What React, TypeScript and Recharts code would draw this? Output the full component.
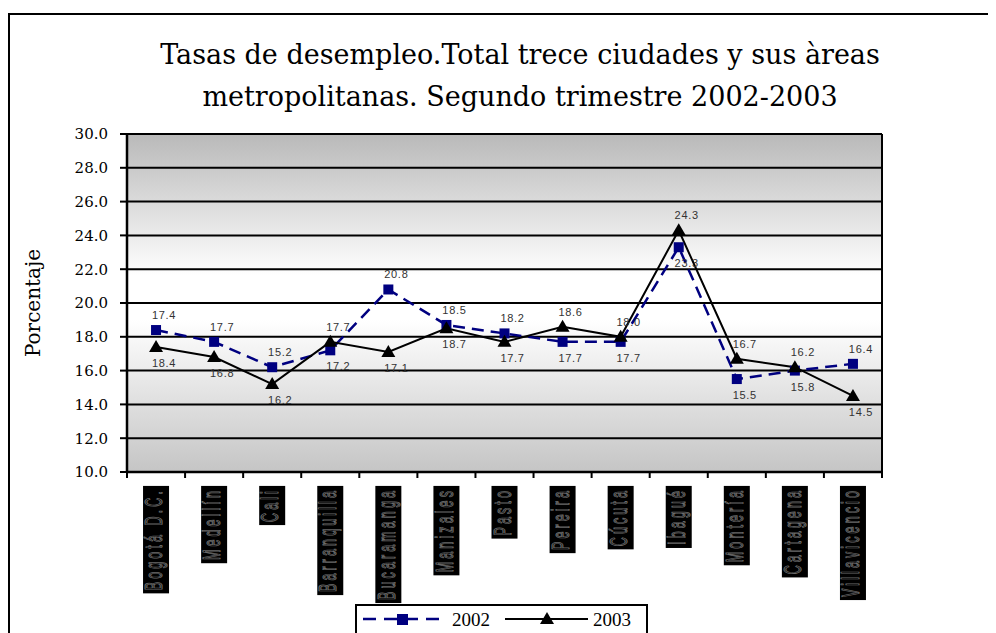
import React, { useLayoutEffect, useRef, useState } from 'react';
import { LineChart, Line, XAxis, YAxis, CartesianGrid, LabelList } from 'recharts';

const CITIES = [
  'Bogotá D.C.', 'Medellín', 'Cali', 'Barranquilla', 'Bucaramanga', 'Manizales', 'Pasto',
  'Pereira', 'Cúcuta', 'Ibagué', 'Montería', 'Cartagena', 'Villavicencio',
];
const RATE_2002 = [18.4, 17.7, 16.2, 17.2, 20.8, 18.7, 18.2, 17.7, 17.7, 23.3, 15.5, 16.0, 16.4];
const RATE_2003 = [17.4, 16.8, 15.2, 17.7, 17.1, 18.5, 17.7, 18.6, 18.0, 24.3, 16.7, 16.2, 14.5];
// label text as printed on the original (a few don't match the point they sit next to)
const LABELS_2002 = ['17.4', '17.7', '15.2', '17.2', '20.8', '18.5', '18.2', '17.7', '17.7', '23.3', '15.5', '15.8', '16.4'];
const LABELS_2003 = ['18.4', '16.8', '16.2', '17.7', '17.1', '18.7', '17.7', '18.6', '18.0', '24.3', '16.7', '16.2', '14.5'];
const Y_TICKS = [10, 12, 14, 16, 18, 20, 22, 24, 26, 28, 30];

const W = 988;
const H = 625;
const MARGIN = { top: 126, right: 114, bottom: 21, left: 59 };
const Y_AXIS_W = 60;
const PLOT_W = W - MARGIN.left - Y_AXIS_W - MARGIN.right;
const BAND = PLOT_W / CITIES.length;

const SERIF = 'DejaVu Serif, serif';
const SANS = 'Liberation Sans, Arial, sans-serif';

const data = CITIES.map((city, i) => ({
  city,
  y2002: RATE_2002[i],
  y2003: RATE_2003[i],
}));

// Excel-style category label: rotated text sitting in a black box, tick marks between categories
function CityTick(props: any) {
  const { x, y, payload, index } = props;
  const ref = useRef<SVGTextElement>(null);
  const [len, setLen] = useState(0);
  useLayoutEffect(() => {
    if (ref.current) setLen(ref.current.getComputedTextLength());
  }, [payload.value]);
  const left = x - BAND / 2;
  return (
    <g>
      <line x1={left} x2={left} y1={y} y2={y + 6} stroke="#000" strokeWidth={2} />
      {index === CITIES.length - 1 && (
        <line x1={x + BAND / 2} x2={x + BAND / 2} y1={y} y2={y + 6} stroke="#000" strokeWidth={2} />
      )}
      <g transform={`translate(${x},${y + 16}) rotate(-90) scale(0.52,1)`}>
        <rect x={-(len + 6)} y={-13} width={len + 10} height={26} fill="#000" />
        <text
          ref={ref}
          x={0}
          y={-2}
          textAnchor="end"
          dominantBaseline="central"
          fontFamily={SANS}
          fontSize={24}
          letterSpacing={6}
          fill="#000"
          stroke="#6a6a6a"
          strokeWidth={1.1}
        >
          {payload.value}
        </text>
      </g>
    </g>
  );
}

const SquareDot = (p: any) => {
  if (p.cx == null) return <g key={p.index} />;
  return <rect key={p.index} x={p.cx - 5} y={p.cy - 5} width={10} height={10} fill="#000080" />;
};

const TriangleDot = (p: any) => {
  if (p.cx == null) return <g key={p.index} />;
  const { cx, cy } = p;
  return <path key={p.index} d={`M${cx},${cy - 7} L${cx + 7},${cy + 5} L${cx - 7},${cy + 5} Z`} fill="#000" />;
};

function makeLabel(own: number[], other: number[], texts: string[]) {
  return (p: any) => {
    const i = p.index;
    const above = own[i] >= other[i];
    return (
      <text
        x={p.x + 8}
        y={p.y + (above ? -15 : 16)}
        textAnchor="middle"
        dominantBaseline="central"
        fontFamily={SANS}
        fontSize={11}
        letterSpacing={0.7}
        fill="#333"
      >
        {texts[i]}
      </text>
    );
  };
}

function Legend() {
  return (
    <div
      style={{
        position: 'absolute',
        left: 347,
        top: 596,
        width: 293,
        height: 60,
        border: '2px solid #000',
        boxSizing: 'border-box',
        background: '#fff',
      }}
    >
      <svg width={289} height={56} style={{ display: 'block' }}>
        <line x1={6} x2={87} y1={13} y2={13} stroke="#000080" strokeWidth={2.5} strokeDasharray="13 8" />
        <rect x={40} y={8} width={11} height={11} fill="#000080" />
        <text x={95} y={13} dominantBaseline="central" fontFamily="Liberation Serif, serif" fontSize={19} fill="#000">2002</text>
        <line x1={148} x2={231} y1={13} y2={13} stroke="#000" strokeWidth={2} />
        <path d="M190,6 L197,18 L183,18 Z" fill="#000" />
        <text x={236} y={13} dominantBaseline="central" fontFamily="Liberation Serif, serif" fontSize={19} fill="#000">2003</text>
      </svg>
    </div>
  );
}

export default function App() {
  return (
    <div style={{ position: 'relative', width: W, height: H, overflow: 'hidden', background: '#fff' }}>
      <div
        style={{
          position: 'absolute',
          left: 0,
          top: 5,
          width: 1100,
          height: 800,
          border: '2px solid #000',
          boxSizing: 'border-box',
        }}
      />
      <div
        style={{
          position: 'absolute',
          left: 12,
          top: 26,
          width: 1000,
          textAlign: 'center',
          fontFamily: SERIF,
          fontSize: 27,
          lineHeight: '42px',
          color: '#000',
        }}
      >
        <div>Tasas de desempleo.Total trece ciudades y sus àreas</div>
        <div>metropolitanas. Segundo trimestre 2002-2003</div>
      </div>
      <div style={{ position: 'absolute', left: 0, top: 0 }}>
        <LineChart width={W} height={H} data={data} margin={MARGIN}>
          <defs>
            <linearGradient id="plotBg" x1="0" y1="0" x2="0" y2="1">
              <stop offset="0" stopColor="#b9b9b9" />
              <stop offset="0.42" stopColor="#ffffff" />
              <stop offset="0.55" stopColor="#ffffff" />
              <stop offset="1" stopColor="#c5c5c5" />
            </linearGradient>
          </defs>
          <CartesianGrid
            fill="url(#plotBg)"
            fillOpacity={1}
            stroke="#000"
            strokeWidth={2}
            vertical
            verticalCoordinatesGenerator={({ offset }: any) => [offset.left, offset.left + offset.width]}
          />
          <XAxis
            dataKey="city"
            interval={0}
            height={140}
            padding={{ left: BAND / 2, right: BAND / 2 }}
            tickSize={0}
            tickMargin={0}
            tickLine={false}
            axisLine={{ stroke: '#000', strokeWidth: 2.5 }}
            tick={<CityTick />}
          />
          <YAxis
            domain={[10, 30]}
            ticks={Y_TICKS}
            width={Y_AXIS_W}
            tickFormatter={(v: number) => v.toFixed(1)}
            tick={{ fill: '#000', fontSize: 15, fontFamily: SERIF }}
            tickLine={{ stroke: '#000', strokeWidth: 2 }}
            tickSize={7}
            tickMargin={12}
            axisLine={{ stroke: '#000', strokeWidth: 2.5 }}
            label={{
              content: () => (
                <text
                  x={25}
                  y={295}
                  transform="rotate(-90 25 295)"
                  textAnchor="middle"
                  dominantBaseline="central"
                  fontFamily={SERIF}
                  fontSize={20}
                  fill="#000"
                >
                  Porcentaje
                </text>
              ),
            }}
          />
          <Line
            dataKey="y2002"
            stroke="#000080"
            strokeWidth={2.5}
            strokeDasharray="12 7"
            dot={SquareDot}
            activeDot={false}
            isAnimationActive={false}
          >
            <LabelList dataKey="y2002" content={makeLabel(RATE_2002, RATE_2003, LABELS_2002)} />
          </Line>
          <Line
            dataKey="y2003"
            stroke="#000"
            strokeWidth={2}
            dot={TriangleDot}
            activeDot={false}
            isAnimationActive={false}
          >
            <LabelList dataKey="y2003" content={makeLabel(RATE_2003, RATE_2002, LABELS_2003)} />
          </Line>
        </LineChart>
      </div>
      <Legend />
    </div>
  );
}
